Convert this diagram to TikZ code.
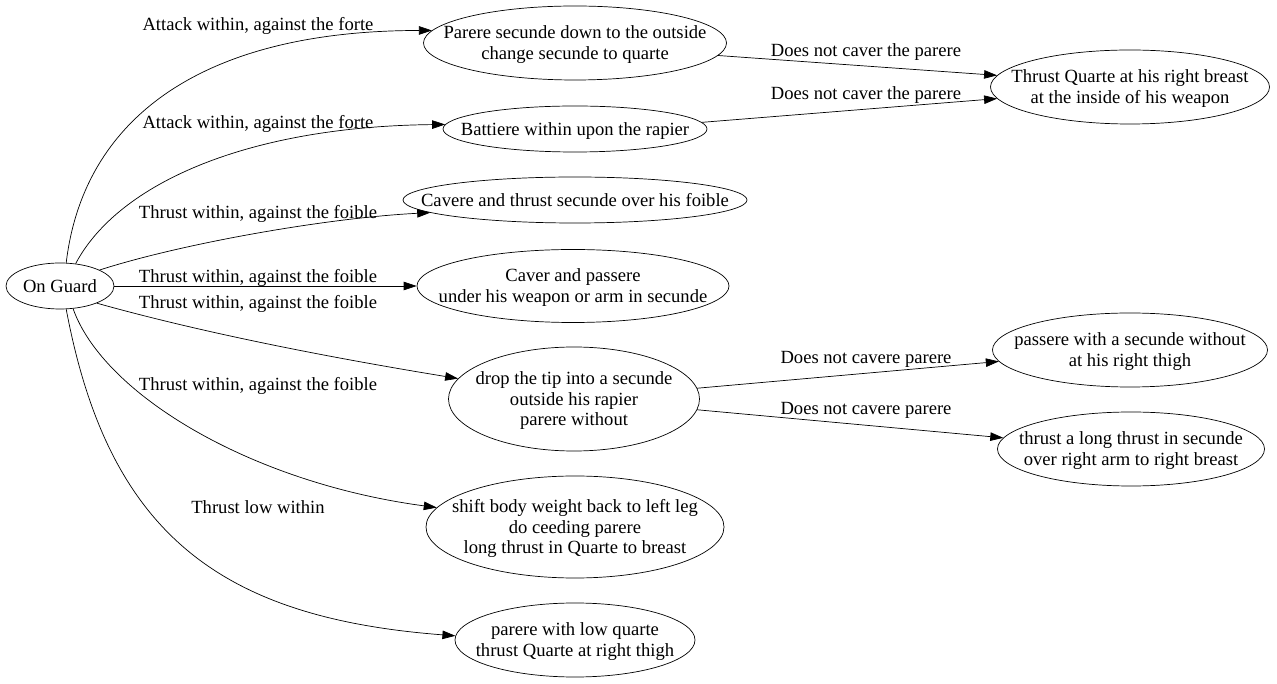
\documentclass[tikz,border=0pt]{standalone}
\usepackage{fontspec}
\setmainfont{Liberation Serif}
\usetikzlibrary{arrows.meta,shapes.geometric}
\newcommand\tx[1]{\makebox[0pt]{\raisebox{-2pt}[\height][\depth]{\begin{tabular}{@{}c@{}}#1\end{tabular}}}}
\begin{document}
\begin{tikzpicture}[x=1pt,y=1pt,>={Triangle[length=13pt,width=8.5pt]},line width=0.7pt,
 font=\fontsize{18.6}{20.5}\selectfont,
 st/.style={draw,ellipse,inner sep=0pt},
 lbl/.style={inner sep=0pt}]
 \useasboundingbox (0,0) rectangle (1277,683);
 % states
 \node[st,minimum width=108pt,minimum height=46pt] (og) at (60,397) {\tx{On Guard}};
 \node[st,minimum width=303pt,minimum height=74pt] (p1) at (575,640) {\tx{Parere secunde down to the outside\\change secunde to quarte}};
 \node[st,minimum width=264pt,minimum height=46pt] (bt) at (575,554) {\tx{Battiere within upon the rapier}};
 \node[st,minimum width=344pt,minimum height=46pt] (cv) at (575,483) {\tx{Cavere and thrust secunde over his foible}};
 \node[st,minimum width=312pt,minimum height=73pt] (cp) at (573,397) {\tx{Caver and passere\\under his weapon or arm in secunde}};
 \node[st,minimum width=251pt,minimum height=104pt] (dr) at (574,284) {\tx{drop the tip into a secunde\\outside his rapier\\parere without}};
 \node[st,minimum width=298pt,minimum height=102pt] (sh) at (575,156) {\tx{shift body weight back to left leg\\do ceeding parere\\long thrust in Quarte to breast}};
 \node[st,minimum width=240pt,minimum height=74pt] (pl) at (575,43) {\tx{parere with low quarte\\thrust Quarte at right thigh}};
 \node[st,minimum width=279pt,minimum height=74pt] (tq) at (1130,596) {\tx{Thrust Quarte at his right breast\\at the inside of his weapon}};
 \node[st,minimum width=275pt,minimum height=74pt] (ps) at (1130,333) {\tx{passere with a secunde without\\at his right thigh}};
 \node[st,minimum width=267pt,minimum height=74pt] (tl) at (1131,234) {\tx{thrust a long thrust in secunde\\over right arm to right breast}};
 % edges
 \draw[->] (og.75) .. controls +(17,143) and +(-232,0) .. (p1.175);
 \draw[->] (og.55) .. controls +(43,81) and +(-196,-2) .. (bt.178);
 \draw[->] (og.22) .. controls +(84,27) and +(-101,-5) .. (cv.185);
 \draw[->] (og.east) -- (cp.west);
 \draw[->] (og.-25) .. controls +(107,-30) and +(-128,21) .. (dr.170);
 \draw[->] (og.-60) .. controls +(30,-85) and +(-187,25) .. (sh.172);
 \draw[->] (og.-75) .. controls +(42,-224) and +(-236,18) .. (pl.178);
 \foreach \a/\b in {p1.-5/tq.175, bt.3/tq.185, dr.5/ps.185, dr.-5/tl.175}
 \draw[->] (\a) -- (\b);
 % labels
 \node[lbl] (l1) at (258,657) {Attack within, against the forte};
 \node[lbl] (l2) at (258,559) {Attack within, against the forte};
 \node[lbl] (l3) at (258,469) {Thrust within, against the foible};
 \node[lbl] (l4) at (258,405) {Thrust within, against the foible};
 \node[lbl] (l5) at (258,379) {Thrust within, against the foible};
 \node[lbl] (l6) at (258,297) {Thrust within, against the foible};
 \node[lbl] (l7) at (258,176) {Thrust low within};
 \node[lbl] (l8) at (866,631) {Does not caver the parere};
 \node[lbl] (l9) at (866,588) {Does not caver the parere};
 \node[lbl] (l10) at (866,324) {Does not cavere parere};
 \node[lbl] (l11) at (866,273) {Does not cavere parere};
\end{tikzpicture}
\end{document}
